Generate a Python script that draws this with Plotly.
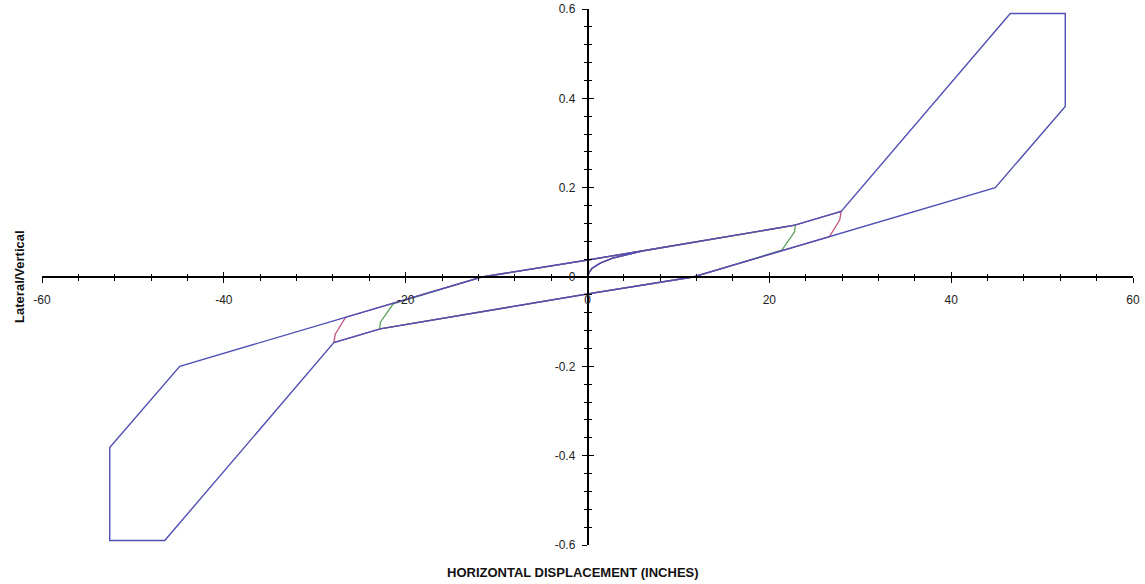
import plotly.graph_objects as go

# Tick values / labels
x_ticks = [-60, -40, -20, 0, 20, 40, 60]
x_tick_text = ["-60", "-40", "-20", "0", "20", "40", "60"]
y_ticks = [-0.6, -0.4, -0.2, 0, 0.2, 0.4, 0.6]
y_tick_text = ["-0.6", "-0.4", "-0.2", "0", "0.2", "0.4", "0.6"]

# Hysteresis loops (displacement in inches, lateral/vertical ratio)
green_x = [0, 0.2, 0.5, 1.4, 2.8, 6, 22.85, 22.78, 21.37, 11.6, 0, -22.85, -22.78, -21.37, -11.6, 0, 22.85]
green_y = [0, 0.011, 0.0195, 0.031, 0.0425, 0.058, 0.116, 0.101, 0.06, 0, -0.038, -0.116, -0.101, -0.06, 0, 0.038, 0.116]

pink_x = [0, 0.2, 0.5, 1.4, 2.8, 6, 22.8, 27.9, 27.75, 26.6, 11.6, 0, -22.8, -27.9, -27.75, -26.6, -11.6, 0, 22.8, 27.9]
pink_y = [0, 0.011, 0.0195, 0.031, 0.0425, 0.058, 0.116, 0.147, 0.128, 0.09, 0, -0.038, -0.116, -0.147, -0.128, -0.09, 0, 0.038, 0.116, 0.147]

blue_x = [0, 0.2, 0.5, 1.4, 2.8, 6, 22.8, 27.9, 46.5, 52.55, 52.55, 44.85, 11.6, 0, -22.8, -27.9, -46.5, -52.55, -52.55, -44.85, -11.6, 0, 22.8, 27.9]
blue_y = [0, 0.011, 0.0195, 0.031, 0.0425, 0.058, 0.116, 0.147, 0.59, 0.59, 0.382, 0.2, 0, -0.038, -0.116, -0.147, -0.59, -0.59, -0.382, -0.2, 0, 0.038, 0.116, 0.147]

FONT = "Liberation Sans, Arial, sans-serif"

fig = go.Figure()
fig.add_trace(go.Scatter(x=green_x, y=green_y, mode="lines",
                         line=dict(color="#5aa05a", width=1.3), showlegend=False, hoverinfo="skip"))
fig.add_trace(go.Scatter(x=pink_x, y=pink_y, mode="lines",
                         line=dict(color="#c05080", width=1.3), showlegend=False, hoverinfo="skip"))
fig.add_trace(go.Scatter(x=blue_x, y=blue_y, mode="lines",
                         line=dict(color="#5050b4", width=1.4), showlegend=False, hoverinfo="skip"))
# empty trace so the overlay axes (inner halves of the crossing ticks) are rendered
fig.add_trace(go.Scatter(x=[], y=[], xaxis="x2", yaxis="y2", mode="lines",
                         showlegend=False, hoverinfo="skip"))

tickfont = dict(family=FONT, size=12, color="#222222")

common_x = dict(range=[-60, 60], anchor="free", position=0.5, zeroline=False, showgrid=False,
                automargin=False,
                tickmode="array", tickvals=x_ticks, tickcolor="black", tickwidth=1.2, ticklen=5)
common_y = dict(range=[-0.6, 0.6], anchor="free", position=0.5, zeroline=False, showgrid=False,
                automargin=False,
                tickmode="array", tickvals=y_ticks, tickcolor="black", tickwidth=1.2, ticklen=5)

fig.update_layout(
    width=1145, height=584,
    margin=dict(l=42, r=12, t=9, b=39, autoexpand=False),
    paper_bgcolor="white", plot_bgcolor="white",
    xaxis=dict(**common_x, showline=True, linecolor="black", linewidth=1.5,
               ticktext=x_tick_text, ticks="outside", ticklabelstandoff=7, tickfont=tickfont,
               minor=dict(tickmode="linear", tick0=0, dtick=4, ticks="outside", ticklen=3,
                          tickwidth=1.2, tickcolor="black", showgrid=False)),
    xaxis2=dict(**common_x, overlaying="x", side="bottom", showline=False, ticks="inside",
                showticklabels=False,
                minor=dict(tickmode="linear", tick0=0, dtick=4, ticks="inside", ticklen=3,
                           tickwidth=1.2, tickcolor="black", showgrid=False)),
    yaxis=dict(**common_y, showline=True, linecolor="black", linewidth=1.5,
               ticktext=y_tick_text, ticks="outside", ticklabelstandoff=4, tickfont=tickfont,
               minor=dict(tickmode="linear", tick0=0, dtick=0.04, ticks="outside", ticklen=3,
                          tickwidth=1.2, tickcolor="black", showgrid=False)),
    yaxis2=dict(**common_y, overlaying="y", side="left", showline=False, ticks="inside",
                showticklabels=False,
                minor=dict(tickmode="linear", tick0=0, dtick=0.04, ticks="inside", ticklen=3,
                           tickwidth=1.2, tickcolor="black", showgrid=False)),
    annotations=[
        dict(text="<b>HORIZONTAL DISPLACEMENT (INCHES)</b>", xref="paper", yref="paper",
             x=0.4867, y=-0.0522, xanchor="center", yanchor="middle", showarrow=False,
             font=dict(family=FONT, size=13, color="#111111")),
        dict(text="<b>Lateral/Vertical</b>", xref="paper", yref="paper",
             x=-0.0202, y=0.502, xanchor="center", yanchor="middle", showarrow=False,
             textangle=-90, font=dict(family=FONT, size=13, color="#111111")),
    ],
)

fig.write_html("out.html", config={"displayModeBar": False},
               post_script="document.body.style.margin='0';document.body.style.overflow='hidden';")
